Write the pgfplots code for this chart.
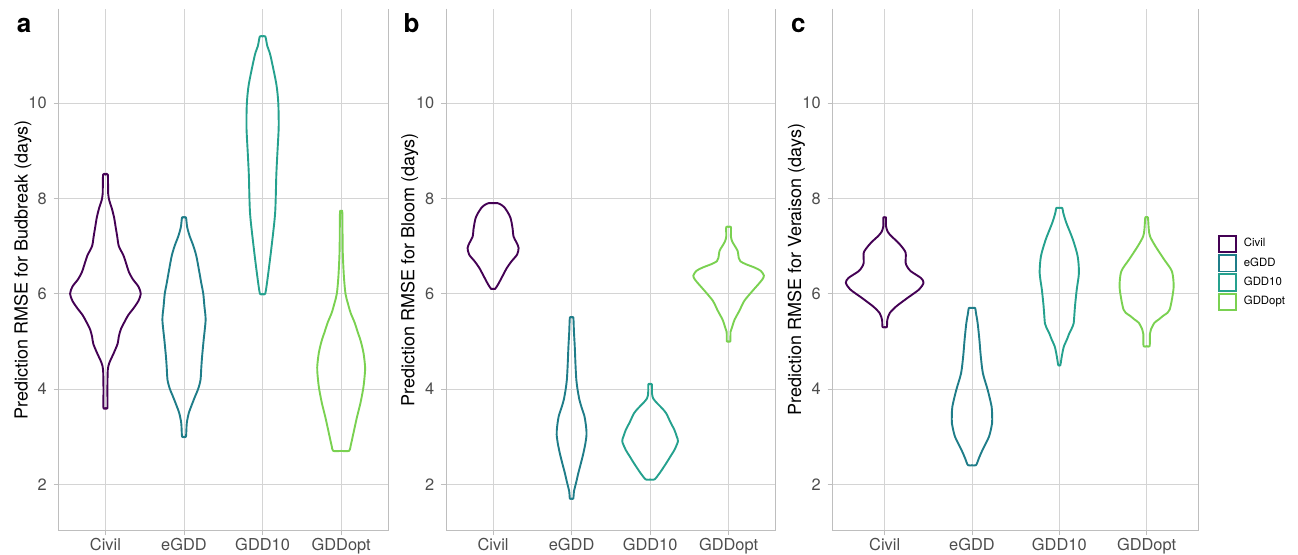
\documentclass[border=0pt]{standalone}
\usepackage{fontspec}
\setmainfont{TeX Gyre Heros}
\usepackage{pgfplots}
\usepackage{pgfplotstable}
\pgfplotsset{compat=1.18}
\definecolor{civ}{HTML}{440154}
\definecolor{egdd}{HTML}{1F7D89}
\definecolor{gddten}{HTML}{25A18E}
\definecolor{gddopt}{HTML}{7AD151}
\definecolor{gridc}{HTML}{D4D4D4}
\definecolor{bordc}{HTML}{BEBEBE}
\definecolor{tickl}{HTML}{4D4D4D}

% ---- panel a: Budbreak ----
\pgfplotstableread{
y w
3.6 0
3.6 0.025
4.0 0.025
4.4 0.03
4.55 0.05
4.75 0.105
4.95 0.155
5.1 0.17
5.25 0.195
5.4 0.24
5.55 0.29
5.7 0.36
5.85 0.42
6.0 0.45
6.15 0.42
6.3 0.35
6.45 0.3
6.6 0.27
6.8 0.23
7.0 0.17
7.2 0.15
7.4 0.13
7.6 0.11
7.8 0.08
7.95 0.05
8.1 0.035
8.5 0.03
8.5 0
}\aCivil
\pgfplotstableread{
y w
3.0 0
3.0 0.025
3.28 0.035
3.49 0.06
3.65 0.095
3.84 0.14
4.0 0.18
4.19 0.21
4.45 0.22
4.68 0.23
5.03 0.25
5.45 0.275
5.73 0.26
6.0 0.245
6.22 0.22
6.5 0.19
6.79 0.157
7.0 0.12
7.21 0.072
7.4 0.04
7.6 0.025
7.6 0
}\aeGDD
\pgfplotstableread{
y w
6.0 0
6.0 0.034
6.4 0.07
7.0 0.115
7.7 0.16
8.5 0.175
9.0 0.19
9.5 0.205
10.0 0.2
10.4 0.175
11.0 0.1
11.2 0.06
11.4 0.035
11.4 0
}\aGDDten
\pgfplotstableread{
y w
2.7 0
2.7 0.1
2.8 0.12
3.1 0.16
3.4 0.2
3.7 0.245
4.0 0.28
4.2 0.295
4.45 0.305
4.75 0.285
5.0 0.25
5.2 0.21
5.4 0.17
5.6 0.12
5.8 0.085
6.0 0.055
6.36 0.035
6.9 0.02
7.7 0.015
7.7 0
}\aGDDopt

% ---- panel b: Bloom ----
\pgfplotstableread{
y w
6.1 0
6.1 0.025
6.2 0.065
6.37 0.12
6.54 0.175
6.68 0.235
6.82 0.305
6.96 0.325
7.07 0.3
7.2 0.26
7.35 0.25
7.5 0.235
7.6 0.22
7.7 0.19
7.8 0.15
7.86 0.11
7.9 0.06
7.9 0
}\bCivil
\pgfplotstableread{
y w
1.7 0
1.7 0.022
1.85 0.03
2.05 0.06
2.23 0.085
2.45 0.12
2.65 0.15
2.85 0.175
3.04 0.19
3.2 0.185
3.42 0.165
3.6 0.13
3.77 0.1
4.0 0.075
4.2 0.06
4.5 0.05
4.9 0.04
5.2 0.03
5.5 0.022
5.5 0
}\beGDD
\pgfplotstableread{
y w
2.1 0
2.1 0.055
2.23 0.12
2.44 0.205
2.6 0.265
2.72 0.31
2.9 0.355
3.0 0.34
3.14 0.31
3.3 0.26
3.49 0.205
3.6 0.15
3.7 0.09
3.8 0.04
3.9 0.025
4.1 0.022
4.1 0
}\bGDDten
\pgfplotstableread{
y w
5.0 0
5.0 0.022
5.2 0.025
5.3 0.045
5.45 0.075
5.65 0.14
5.85 0.2
6.05 0.3
6.2 0.38
6.3 0.43
6.38 0.45
6.48 0.41
6.55 0.33
6.62 0.22
6.68 0.15
6.75 0.13
6.9 0.115
7.0 0.08
7.1 0.045
7.2 0.03
7.4 0.03
7.4 0
}\bGDDopt

% ---- panel c: Veraison ----
\pgfplotstableread{
y w
5.3 0
5.3 0.025
5.45 0.03
5.59 0.057
5.73 0.13
5.91 0.26
6.09 0.395
6.23 0.445
6.33 0.415
6.47 0.3
6.56 0.26
6.65 0.24
6.86 0.24
7.0 0.19
7.1 0.14
7.21 0.075
7.3 0.035
7.42 0.015
7.6 0.015
7.6 0
}\cCivil
\pgfplotstableread{
y w
2.4 0
2.4 0.046
2.55 0.08
2.72 0.12
3.0 0.195
3.28 0.23
3.45 0.23
3.63 0.225
3.98 0.18
4.33 0.125
4.7 0.1
5.03 0.085
5.38 0.065
5.6 0.045
5.7 0.036
5.7 0
}\ceGDD
\pgfplotstableread{
y w
4.5 0
4.5 0.012
4.7 0.03
4.89 0.052
5.05 0.09
5.17 0.115
5.3 0.15
5.38 0.165
5.74 0.18
6.09 0.2
6.44 0.225
6.79 0.21
7.14 0.155
7.49 0.08
7.7 0.045
7.8 0.034
7.8 0
}\cGDDten
\pgfplotstableread{
y w
4.9 0
4.9 0.035
5.15 0.037
5.25 0.05
5.39 0.09
5.46 0.14
5.53 0.185
5.6 0.24
5.67 0.265
5.88 0.29
6.16 0.31
6.47 0.29
6.72 0.2
7.0 0.1
7.2 0.04
7.35 0.025
7.6 0.015
7.6 0
}\cGDDopt

\pgfplotsset{
  vio/.style={line width=0.95pt, line join=round, line cap=round, no markers, forget plot, smooth, tension=0.45},
  vpanel/.style={
    scale only axis, height=261.05pt, anchor=south west,
    xmin=0.4, xmax=4.6, ymin=1.025, ymax=11.985,
    xtick={1,2,3,4}, xticklabels={Civil,eGDD,GDD10,GDDopt},
    ytick={2,4,6,8,10},
    grid=major, major grid style={draw=gridc, line width=0.45pt},
    axis line style={draw=none},
    tick style={draw=bordc, line width=0.45pt},
    major tick length=2.3pt, tick align=outside,
    xtick pos=left, ytick pos=left,
    ticklabel style={font=\fontsize{8.2}{9.5}\selectfont, text=tickl},
    xticklabel style={yshift=2pt},
    /pgf/number format/assume math mode=true,
    extra description/.code={\draw[bordc, line width=0.5pt] (rel axis cs:0,1) -- (rel axis cs:0,0) -- (rel axis cs:1,0) -- (rel axis cs:1,1);},
  },
  ylab/.style={every axis y label/.style={at={(axis description cs:#1,0.5)}, anchor=center, rotate=90, font=\fontsize{9}{10.5}\selectfont, text=black}},
}
\newcommand{\violin}[3]{%
  \addplot[vio, draw=#3] table[x expr=#2+\thisrow{w}, y=y] {#1};
  \addplot[vio, draw=#3] table[x expr=#2-\thisrow{w}, y=y] {#1};%
}

\begin{document}
\begin{tikzpicture}
\useasboundingbox (0,0) rectangle (649pt,277pt);

\begin{axis}[vpanel, at={(29.15pt,11.65pt)}, width=165pt,
  ylab=-0.1076, ylabel={Prediction RMSE for Budbreak (days)}]
  \violin{\aCivil}{1}{civ}
  \violin{\aeGDD}{2}{egdd}
  \violin{\aGDDten}{3}{gddten}
  \violin{\aGDDopt}{4}{gddopt}
\end{axis}

\begin{axis}[vpanel, at={(223pt,11.65pt)}, width=164.85pt,
  ylab=-0.1107, ylabel={Prediction RMSE for Bloom (days)}]
  \violin{\bCivil}{1}{civ}
  \violin{\beGDD}{2}{egdd}
  \violin{\bGDDten}{3}{gddten}
  \violin{\bGDDopt}{4}{gddopt}
\end{axis}

\begin{axis}[vpanel, at={(416.15pt,11.65pt)}, width=183.35pt,
  ylab=-0.0982, ylabel={Prediction RMSE for Veraison (days)},
  legend style={at={(axis description cs:1.0507,0.5675)}, anchor=north west, draw=none, fill=none,
    inner sep=0pt, font=\fontsize{5.7}{6.8}\selectfont, row sep=0.5pt,
    nodes={inner sep=0.4pt, text=black},
    /tikz/every odd column/.append style={column sep=3.2pt}},
  legend cell align=left,
  legend image code/.code={\draw[#1, fill=white, line width=0.95pt] (0pt,-4.1pt) rectangle (8.4pt,4.1pt);}]
  \violin{\cCivil}{1}{civ}
  \violin{\ceGDD}{2}{egdd}
  \violin{\cGDDten}{3}{gddten}
  \violin{\cGDDopt}{4}{gddopt}
  \addlegendimage{draw=civ}\addlegendentry{Civil}
  \addlegendimage{draw=egdd}\addlegendentry{eGDD}
  \addlegendimage{draw=gddten}\addlegendentry{GDD10}
  \addlegendimage{draw=gddopt}\addlegendentry{GDDopt}
\end{axis}

\node[anchor=base west, inner sep=0pt, font=\bfseries\fontsize{13}{15}\selectfont] at (8.2pt,260.85pt) {a};
\node[anchor=base west, inner sep=0pt, font=\bfseries\fontsize{13}{15}\selectfont] at (201.6pt,260.85pt) {b};
\node[anchor=base west, inner sep=0pt, font=\bfseries\fontsize{13}{15}\selectfont] at (395.4pt,260.85pt) {c};
\end{tikzpicture}
\end{document}
